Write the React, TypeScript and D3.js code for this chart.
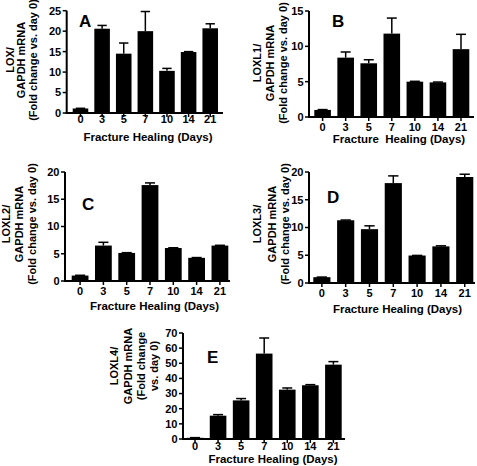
import React from "react";
import * as d3 from "d3";

// ---- data ----
const days = ["0", "3", "5", "7", "10", "14", "21"];

const loxValues = [1.1, 20.6, 14.5, 20.0, 10.3, 14.9, 20.7];
const loxErrors = [0.05, 0.8, 2.6, 4.8, 0.6, 0.1, 1.1];
const loxTicks = [0, 5, 10, 15, 20, 25];

const loxl1Values = [1.0, 8.4, 7.6, 11.8, 5.0, 4.9, 9.6];
const loxl1Errors = [0.05, 0.8, 0.5, 2.2, 0.05, 0.05, 2.1];
const loxl1Ticks = [0, 5, 10, 15];

const loxl2Values = [1.0, 6.5, 5.15, 17.6, 6.05, 4.25, 6.5];
const loxl2Errors = [0.05, 0.6, 0.05, 0.4, 0.05, 0.05, 0.05];
const loxl2Ticks = [0, 5, 10, 15, 20];

const loxl3Values = [1.05, 11.3, 9.7, 18.0, 4.95, 6.6, 19.1];
const loxl3Errors = [0.02, 0.05, 0.6, 1.3, 0.02, 0.1, 0.5];
const loxl3Ticks = [0, 5, 10, 15, 20];

const loxl4Values = [0.8, 15.4, 25.5, 56.4, 32.6, 35.5, 49.1];
const loxl4Errors = [0.1, 0.7, 1.2, 10.3, 1.1, 0.4, 2.0];
const loxl4Ticks = [0, 10, 20, 30, 40, 50, 60, 70];

// ---- layout ----
type Layout = {
  ax0: number; ax1: number; b0: number; b1: number; y0: number; y1: number;
  tickBase: number; titleBase: number; titleX: number;
  labelXs: number[]; labelY: number; letterX: number; letterY: number;
};
type Panel = {
  letter: string; labelLines: string[]; title: string;
  values: number[]; errors: number[]; ticks: number[]; layout: Layout;
};

const panels: Panel[] = [
  {
    letter: "A", labelLines: ["LOX/", "GAPDH mRNA", "(Fold change vs. day 0)"],
    title: "Fracture Healing (Days)", values: loxValues, errors: loxErrors, ticks: loxTicks,
    layout: { ax0: 66.7, ax1: 223, b0: 72.7, b1: 218, y0: 113, y1: 10.7, tickBase: 123, titleBase: 141, titleX: 148,
      labelXs: [9.5, 21, 32.5], labelY: 60, letterX: 79, letterY: 27 },
  },
  {
    letter: "B", labelLines: ["LOXL1/", "GAPDH mRNA", "(Fold change vs. day 0)"],
    title: "Fracture\u00a0 Healing (Days)", values: loxl1Values, errors: loxl1Errors, ticks: loxl1Ticks,
    layout: { ax0: 309, ax1: 474, b0: 314.3, b1: 469.3, y0: 117, y1: 11, tickBase: 131, titleBase: 142.5, titleX: 399,
      labelXs: [256.5, 270, 283], labelY: 63, letterX: 332, letterY: 27 },
  },
  {
    letter: "C", labelLines: ["LOXL2/", "GAPDH mRNA", "(Fold change vs. day 0)"],
    title: "Fracture Healing (Days)", values: loxl2Values, errors: loxl2Errors, ticks: loxl2Ticks,
    layout: { ax0: 65, ax1: 230, b0: 71.7, b1: 228.3, y0: 281, y1: 172, tickBase: 295, titleBase: 310, titleX: 154.5,
      labelXs: [6, 19, 32], labelY: 224, letterX: 82, letterY: 210 },
  },
  {
    letter: "D", labelLines: ["LOXL3/", "GAPDH mRNA", "(Fold change vs. day 0)"],
    title: "Fracture Healing (Days)", values: loxl3Values, errors: loxl3Errors, ticks: loxl3Ticks,
    layout: { ax0: 309, ax1: 475, b0: 313.3, b1: 473.3, y0: 283, y1: 172, tickBase: 297, titleBase: 313, titleX: 397.5,
      labelXs: [257, 271.5, 285], labelY: 224, letterX: 327, letterY: 203 },
  },
  {
    letter: "E", labelLines: ["LOXL4/", "GAPDH mRNA", "(Fold change", "vs. day 0)"],
    title: "Fracture Healing (Days)", values: loxl4Values, errors: loxl4Errors, ticks: loxl4Ticks,
    layout: { ax0: 183, ax1: 345, b0: 186.7, b1: 341.7, y0: 439, y1: 333, tickBase: 450, titleBase: 463, titleX: 273,
      labelXs: [114, 127.5, 140.5, 154], labelY: 366, letterX: 207, letterY: 363 },
  },
];

const FONT = "'Liberation Sans', Arial, Helvetica, sans-serif";

function BarPanel({ p }: { p: Panel }) {
  const L = p.layout;
  const x = d3.scaleBand<string>().domain(days).range([L.b0, L.b1]).paddingInner(0.28).paddingOuter(0);
  const yMax = p.ticks[p.ticks.length - 1];
  const y = d3.scaleLinear().domain([0, yMax]).range([L.y0, L.y1]);
  const bw = x.bandwidth();
  const cap = bw * 0.6;
  return (
    <g>
      {p.values.map((v, i) => {
        const cx = (x(days[i]) as number) + bw / 2;
        const top = y(v);
        const et = y(v + p.errors[i]);
        return (
          <g key={i}>
            <line x1={cx} x2={cx} y1={top} y2={et} stroke="#000" strokeWidth={1.5} />
            <line x1={cx - cap / 2} x2={cx + cap / 2} y1={et} y2={et} stroke="#000" strokeWidth={1.5} />
            <rect x={x(days[i])} y={top} width={bw} height={L.y0 - top} fill="#000" />
          </g>
        );
      })}
      {/* y axis */}
      <line x1={L.ax0} x2={L.ax0} y1={y(yMax)} y2={L.y0 + 1} stroke="#000" strokeWidth={2} />
      {p.ticks.map((t) => (
        <g key={t}>
          <line x1={L.ax0 - 4} x2={L.ax0} y1={y(t)} y2={y(t)} stroke="#000" strokeWidth={1.5} />
          <text x={L.ax0 - 5.5} y={y(t) + 3.9} textAnchor="end" fontSize={11} fontWeight="bold" fontFamily={FONT}>{t}</text>
        </g>
      ))}
      {/* x axis */}
      <line x1={L.ax0 - 1} x2={L.ax1} y1={L.y0} y2={L.y0} stroke="#000" strokeWidth={2} />
      {days.map((d) => {
        const cx = (x(d) as number) + bw / 2;
        return (
          <g key={d}>
            <line x1={cx} x2={cx} y1={L.y0} y2={L.y0 + 4} stroke="#000" strokeWidth={1.5} />
            <text x={cx} y={L.tickBase} textAnchor="middle" fontSize={11} fontWeight="bold" fontFamily={FONT}>{d}</text>
          </g>
        );
      })}
      <text x={L.titleX} y={L.titleBase} textAnchor="middle" fontSize={11.5} fontWeight="bold" fontFamily={FONT} style={{ whiteSpace: "pre" }}>{p.title}</text>
      {p.labelLines.map((ln, i) => (
        <text key={i} transform={`translate(${L.labelXs[i] + 4},${L.labelY}) rotate(-90)`} textAnchor="middle"
          fontSize={11} fontWeight="bold" fontFamily={FONT}>{ln}</text>
      ))}
      <text x={L.letterX} y={L.letterY} fontSize={17} fontWeight="bold" fontFamily={FONT}>{p.letter}</text>
    </g>
  );
}

export default function App() {
  return (
    <svg width={477} height={466} style={{ position: "absolute", left: 0, top: 0, background: "#fff" }}>
      <rect width={477} height={466} fill="#fff" />
      {panels.map((p) => (
        <BarPanel key={p.letter} p={p} />
      ))}
    </svg>
  );
}
